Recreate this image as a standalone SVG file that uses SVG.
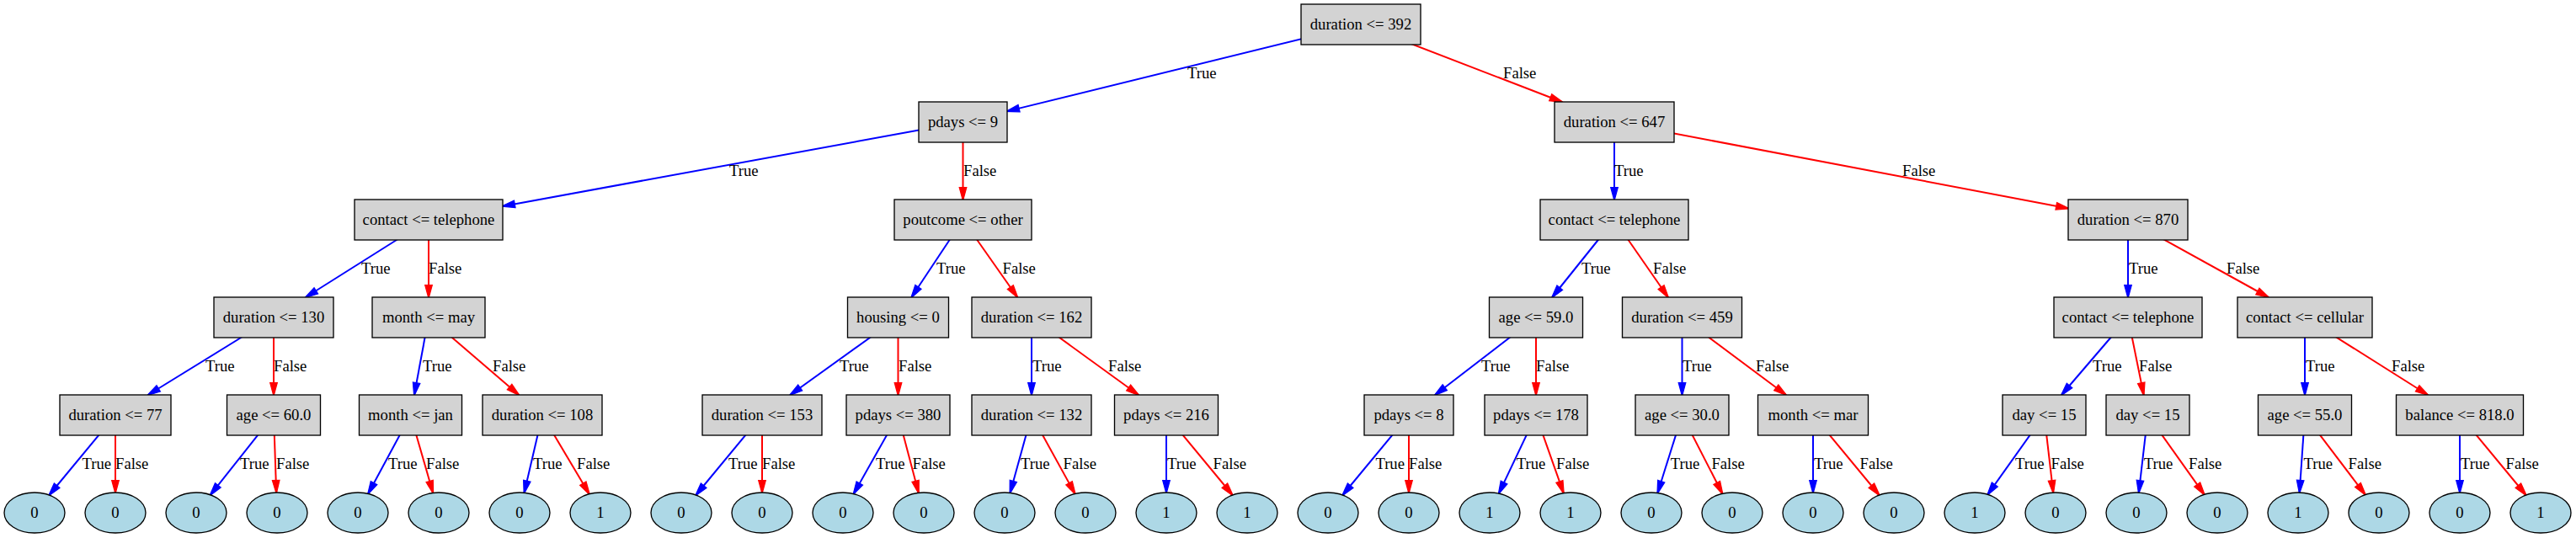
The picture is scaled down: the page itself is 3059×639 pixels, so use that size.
<svg xmlns="http://www.w3.org/2000/svg" width="3059" height="639" viewBox="0 0 3059 639">
<style>
text{font-family:"Liberation Serif","Times New Roman",serif;font-size:18.67px;fill:#000}
.n text,.l text{text-anchor:middle}
.n rect{fill:#d3d3d3;stroke:#000;stroke-width:1.33}
.l ellipse{fill:#add8e6;stroke:#000;stroke-width:1.33}
.t{stroke:#0000ff;stroke-width:2;marker-end:url(#at)}
.f{stroke:#ff0000;stroke-width:2;marker-end:url(#af)}
</style>
<defs>
<marker id="at" markerUnits="userSpaceOnUse" refX="14.5" refY="0" orient="auto" overflow="visible" markerWidth="18" markerHeight="12"><path d="M0,-4.3L16,0L0,4.3Z" fill="#0000ff" stroke="#0000ff" stroke-width="1.2"/></marker>
<marker id="af" markerUnits="userSpaceOnUse" refX="14.5" refY="0" orient="auto" overflow="visible" markerWidth="18" markerHeight="12"><path d="M0,-4.3L16,0L0,4.3Z" fill="#ff0000" stroke="#ff0000" stroke-width="1.2"/></marker>
</defs>
<rect width="3059" height="639" fill="#fff"/>
<g id="edges">
<line class="t" x1="1616" y1="29" x2="1196" y2="132.11"/>
<line class="f" x1="1616" y1="29" x2="1854.72" y2="121"/>
<line class="t" x1="1143.5" y1="145" x2="597" y2="244.91"/>
<line class="f" x1="1143.5" y1="145" x2="1143.5" y2="237"/>
<line class="t" x1="1917" y1="145" x2="1917" y2="237"/>
<line class="f" x1="1917" y1="145" x2="2456" y2="247.5"/>
<line class="t" x1="509" y1="261" x2="363.07" y2="353"/>
<line class="f" x1="509" y1="261" x2="509" y2="353"/>
<line class="t" x1="1143.5" y1="261" x2="1082.43" y2="353"/>
<line class="f" x1="1143.5" y1="261" x2="1208.14" y2="353"/>
<line class="t" x1="1917" y1="261" x2="1843.24" y2="353"/>
<line class="f" x1="1917" y1="261" x2="1980.84" y2="353"/>
<line class="t" x1="2527" y1="261" x2="2527" y2="353"/>
<line class="f" x1="2527" y1="261" x2="2693.55" y2="353"/>
<line class="t" x1="325" y1="377" x2="175.9" y2="469"/>
<line class="f" x1="325" y1="377" x2="325" y2="469"/>
<line class="t" x1="509" y1="377" x2="491.95" y2="469"/>
<line class="f" x1="509" y1="377" x2="616.07" y2="469"/>
<line class="t" x1="1066.5" y1="377" x2="938.41" y2="469"/>
<line class="f" x1="1066.5" y1="377" x2="1066.5" y2="469"/>
<line class="t" x1="1225" y1="377" x2="1225" y2="469"/>
<line class="f" x1="1225" y1="377" x2="1351.9" y2="469"/>
<line class="t" x1="1824" y1="377" x2="1704.24" y2="469"/>
<line class="f" x1="1824" y1="377" x2="1824" y2="469"/>
<line class="t" x1="1997.5" y1="377" x2="1997.5" y2="469"/>
<line class="f" x1="1997.5" y1="377" x2="2120.83" y2="469"/>
<line class="t" x1="2527" y1="377" x2="2448.09" y2="469"/>
<line class="f" x1="2527" y1="377" x2="2545.64" y2="469"/>
<line class="t" x1="2737" y1="377" x2="2737" y2="469"/>
<line class="f" x1="2737" y1="377" x2="2882.93" y2="469"/>
<line class="t" x1="137" y1="493" x2="58.39" y2="587.99"/>
<line class="f" x1="137" y1="493" x2="137" y2="585"/>
<line class="t" x1="325" y1="493" x2="249.83" y2="587.78"/>
<line class="f" x1="325" y1="493" x2="328.17" y2="585.01"/>
<line class="t" x1="487.5" y1="493" x2="437.17" y2="586.41"/>
<line class="f" x1="487.5" y1="493" x2="514.19" y2="585.43"/>
<line class="t" x1="644" y1="493" x2="622.52" y2="585.28"/>
<line class="f" x1="644" y1="493" x2="699.73" y2="586.69"/>
<line class="t" x1="905" y1="493" x2="826.39" y2="587.99"/>
<line class="f" x1="905" y1="493" x2="905" y2="585"/>
<line class="t" x1="1066.5" y1="493" x2="1013.68" y2="586.54"/>
<line class="f" x1="1066.5" y1="493" x2="1090.78" y2="585.36"/>
<line class="t" x1="1225" y1="493" x2="1199.51" y2="585.4"/>
<line class="f" x1="1225" y1="493" x2="1276.57" y2="586.48"/>
<line class="t" x1="1385" y1="493" x2="1385" y2="585"/>
<line class="f" x1="1385" y1="493" x2="1463.61" y2="587.99"/>
<line class="t" x1="1673" y1="493" x2="1594.39" y2="587.99"/>
<line class="f" x1="1673" y1="493" x2="1673" y2="585"/>
<line class="t" x1="1824" y1="493" x2="1779.85" y2="586.12"/>
<line class="f" x1="1824" y1="493" x2="1856.74" y2="585.64"/>
<line class="t" x1="1997.5" y1="493" x2="1968.39" y2="585.51"/>
<line class="f" x1="1997.5" y1="493" x2="2045.35" y2="586.29"/>
<line class="t" x1="2153" y1="493" x2="2153" y2="585"/>
<line class="f" x1="2153" y1="493" x2="2231.61" y2="587.99"/>
<line class="t" x1="2427.5" y1="493" x2="2360.42" y2="587.31"/>
<line class="f" x1="2427.5" y1="493" x2="2438.22" y2="585.07"/>
<line class="t" x1="2550.5" y1="493" x2="2539.78" y2="585.07"/>
<line class="f" x1="2550.5" y1="493" x2="2617.58" y2="587.31"/>
<line class="t" x1="2737" y1="493" x2="2730.65" y2="585.03"/>
<line class="f" x1="2737" y1="493" x2="2808.75" y2="587.58"/>
<line class="t" x1="2921" y1="493" x2="2921" y2="585"/>
<line class="f" x1="2921" y1="493" x2="2999.61" y2="587.99"/>
</g>
<g id="edge-labels">
<text x="1410" y="93">True</text><text x="1785" y="93">False</text>
<text x="866" y="209">True</text><text x="1144" y="209">False</text><text x="1917" y="209">True</text><text x="2259" y="209">False</text>
<text x="429" y="325">True</text><text x="509" y="325">False</text><text x="1112" y="325">True</text><text x="1190.5" y="325">False</text>
<text x="1878" y="325">True</text><text x="1963" y="325">False</text><text x="2528" y="325">True</text><text x="2644" y="325">False</text>
<text x="244" y="441">True</text><text x="325" y="441">False</text><text x="502" y="441">True</text><text x="585" y="441">False</text>
<text x="997" y="441">True</text><text x="1067" y="441">False</text><text x="1226" y="441">True</text><text x="1316" y="441">False</text>
<text x="1759" y="441">True</text><text x="1824" y="441">False</text><text x="1998" y="441">True</text><text x="2085" y="441">False</text>
<text x="2485" y="441">True</text><text x="2540" y="441">False</text><text x="2738" y="441">True</text><text x="2840" y="441">False</text>
<text x="97.6" y="557">True</text><text x="137" y="557">False</text>
<text x="285" y="557">True</text><text x="328" y="557">False</text>
<text x="461" y="557">True</text><text x="506" y="557">False</text>
<text x="633" y="557">True</text><text x="685" y="557">False</text>
<text x="865" y="557">True</text><text x="905" y="557">False</text>
<text x="1040" y="557">True</text><text x="1083.5" y="557">False</text>
<text x="1212" y="557">True</text><text x="1262.6" y="557">False</text>
<text x="1386" y="557">True</text><text x="1440.6" y="557">False</text>
<text x="1633.4" y="557">True</text><text x="1673" y="557">False</text>
<text x="1800.7" y="557">True</text><text x="1848" y="557">False</text>
<text x="1983.7" y="557">True</text><text x="2032.4" y="557">False</text>
<text x="2154" y="557">True</text><text x="2208.5" y="557">False</text>
<text x="2393" y="557">True</text><text x="2435.5" y="557">False</text>
<text x="2545.7" y="557">True</text><text x="2599" y="557">False</text>
<text x="2735.5" y="557">True</text><text x="2788.6" y="557">False</text>
<text x="2922" y="557">True</text><text x="2975.5" y="557">False</text>
</g>
<g id="n0" class="n"><rect x="1545" y="5" width="142" height="48"/><text x="1616" y="35">duration &lt;= 392</text></g>
<g id="n1" class="n"><rect x="1091" y="121" width="105" height="48"/><text x="1143.5" y="151">pdays &lt;= 9</text></g>
<g id="n2" class="n"><rect x="1846" y="121" width="142" height="48"/><text x="1917" y="151">duration &lt;= 647</text></g>
<g id="n3" class="n"><rect x="421" y="237" width="176" height="48"/><text x="509" y="267">contact &lt;= telephone</text></g>
<g id="n4" class="n"><rect x="1062" y="237" width="163" height="48"/><text x="1143.5" y="267">poutcome &lt;= other</text></g>
<g id="n5" class="n"><rect x="1829" y="237" width="176" height="48"/><text x="1917" y="267">contact &lt;= telephone</text></g>
<g id="n6" class="n"><rect x="2456" y="237" width="142" height="48"/><text x="2527" y="267">duration &lt;= 870</text></g>
<g id="n7" class="n"><rect x="254" y="353" width="142" height="48"/><text x="325" y="383">duration &lt;= 130</text></g>
<g id="n8" class="n"><rect x="442" y="353" width="134" height="48"/><text x="509" y="383">month &lt;= may</text></g>
<g id="n9" class="n"><rect x="1006.5" y="353" width="120" height="48"/><text x="1066.5" y="383">housing &lt;= 0</text></g>
<g id="n10" class="n"><rect x="1154" y="353" width="142" height="48"/><text x="1225" y="383">duration &lt;= 162</text></g>
<g id="n11" class="n"><rect x="1768.5" y="353" width="111" height="48"/><text x="1824" y="383">age &lt;= 59.0</text></g>
<g id="n12" class="n"><rect x="1926.5" y="353" width="142" height="48"/><text x="1997.5" y="383">duration &lt;= 459</text></g>
<g id="n13" class="n"><rect x="2439" y="353" width="176" height="48"/><text x="2527" y="383">contact &lt;= telephone</text></g>
<g id="n14" class="n"><rect x="2657" y="353" width="160" height="48"/><text x="2737" y="383">contact &lt;= cellular</text></g>
<g id="n15" class="n"><rect x="71" y="469" width="132" height="48"/><text x="137" y="499">duration &lt;= 77</text></g>
<g id="n16" class="n"><rect x="269.5" y="469" width="111" height="48"/><text x="325" y="499">age &lt;= 60.0</text></g>
<g id="n17" class="n"><rect x="426.5" y="469" width="122" height="48"/><text x="487.5" y="499">month &lt;= jan</text></g>
<g id="n18" class="n"><rect x="573" y="469" width="142" height="48"/><text x="644" y="499">duration &lt;= 108</text></g>
<g id="n19" class="n"><rect x="834" y="469" width="142" height="48"/><text x="905" y="499">duration &lt;= 153</text></g>
<g id="n20" class="n"><rect x="1005" y="469" width="123" height="48"/><text x="1066.5" y="499">pdays &lt;= 380</text></g>
<g id="n21" class="n"><rect x="1154" y="469" width="142" height="48"/><text x="1225" y="499">duration &lt;= 132</text></g>
<g id="n22" class="n"><rect x="1323.5" y="469" width="123" height="48"/><text x="1385" y="499">pdays &lt;= 216</text></g>
<g id="n23" class="n"><rect x="1620" y="469" width="106" height="48"/><text x="1673" y="499">pdays &lt;= 8</text></g>
<g id="n24" class="n"><rect x="1763" y="469" width="122" height="48"/><text x="1824" y="499">pdays &lt;= 178</text></g>
<g id="n25" class="n"><rect x="1942" y="469" width="111" height="48"/><text x="1997.5" y="499">age &lt;= 30.0</text></g>
<g id="n26" class="n"><rect x="2087.5" y="469" width="131" height="48"/><text x="2153" y="499">month &lt;= mar</text></g>
<g id="n27" class="n"><rect x="2378" y="469" width="99" height="48"/><text x="2427.5" y="499">day &lt;= 15</text></g>
<g id="n28" class="n"><rect x="2501" y="469" width="99" height="48"/><text x="2550.5" y="499">day &lt;= 15</text></g>
<g id="n29" class="n"><rect x="2681.5" y="469" width="111" height="48"/><text x="2737" y="499">age &lt;= 55.0</text></g>
<g id="n30" class="n"><rect x="2845.5" y="469" width="151" height="48"/><text x="2921" y="499">balance &lt;= 818.0</text></g>
<g id="leaf0" class="l"><ellipse cx="41" cy="609" rx="36" ry="24"/><text x="41" y="615">0</text></g>
<g id="leaf1" class="l"><ellipse cx="137" cy="609" rx="36" ry="24"/><text x="137" y="615">0</text></g>
<g id="leaf2" class="l"><ellipse cx="233" cy="609" rx="36" ry="24"/><text x="233" y="615">0</text></g>
<g id="leaf3" class="l"><ellipse cx="329" cy="609" rx="36" ry="24"/><text x="329" y="615">0</text></g>
<g id="leaf4" class="l"><ellipse cx="425" cy="609" rx="36" ry="24"/><text x="425" y="615">0</text></g>
<g id="leaf5" class="l"><ellipse cx="521" cy="609" rx="36" ry="24"/><text x="521" y="615">0</text></g>
<g id="leaf6" class="l"><ellipse cx="617" cy="609" rx="36" ry="24"/><text x="617" y="615">0</text></g>
<g id="leaf7" class="l"><ellipse cx="713" cy="609" rx="36" ry="24"/><text x="713" y="615">1</text></g>
<g id="leaf8" class="l"><ellipse cx="809" cy="609" rx="36" ry="24"/><text x="809" y="615">0</text></g>
<g id="leaf9" class="l"><ellipse cx="905" cy="609" rx="36" ry="24"/><text x="905" y="615">0</text></g>
<g id="leaf10" class="l"><ellipse cx="1001" cy="609" rx="36" ry="24"/><text x="1001" y="615">0</text></g>
<g id="leaf11" class="l"><ellipse cx="1097" cy="609" rx="36" ry="24"/><text x="1097" y="615">0</text></g>
<g id="leaf12" class="l"><ellipse cx="1193" cy="609" rx="36" ry="24"/><text x="1193" y="615">0</text></g>
<g id="leaf13" class="l"><ellipse cx="1289" cy="609" rx="36" ry="24"/><text x="1289" y="615">0</text></g>
<g id="leaf14" class="l"><ellipse cx="1385" cy="609" rx="36" ry="24"/><text x="1385" y="615">1</text></g>
<g id="leaf15" class="l"><ellipse cx="1481" cy="609" rx="36" ry="24"/><text x="1481" y="615">1</text></g>
<g id="leaf16" class="l"><ellipse cx="1577" cy="609" rx="36" ry="24"/><text x="1577" y="615">0</text></g>
<g id="leaf17" class="l"><ellipse cx="1673" cy="609" rx="36" ry="24"/><text x="1673" y="615">0</text></g>
<g id="leaf18" class="l"><ellipse cx="1769" cy="609" rx="36" ry="24"/><text x="1769" y="615">1</text></g>
<g id="leaf19" class="l"><ellipse cx="1865" cy="609" rx="36" ry="24"/><text x="1865" y="615">1</text></g>
<g id="leaf20" class="l"><ellipse cx="1961" cy="609" rx="36" ry="24"/><text x="1961" y="615">0</text></g>
<g id="leaf21" class="l"><ellipse cx="2057" cy="609" rx="36" ry="24"/><text x="2057" y="615">0</text></g>
<g id="leaf22" class="l"><ellipse cx="2153" cy="609" rx="36" ry="24"/><text x="2153" y="615">0</text></g>
<g id="leaf23" class="l"><ellipse cx="2249" cy="609" rx="36" ry="24"/><text x="2249" y="615">0</text></g>
<g id="leaf24" class="l"><ellipse cx="2345" cy="609" rx="36" ry="24"/><text x="2345" y="615">1</text></g>
<g id="leaf25" class="l"><ellipse cx="2441" cy="609" rx="36" ry="24"/><text x="2441" y="615">0</text></g>
<g id="leaf26" class="l"><ellipse cx="2537" cy="609" rx="36" ry="24"/><text x="2537" y="615">0</text></g>
<g id="leaf27" class="l"><ellipse cx="2633" cy="609" rx="36" ry="24"/><text x="2633" y="615">0</text></g>
<g id="leaf28" class="l"><ellipse cx="2729" cy="609" rx="36" ry="24"/><text x="2729" y="615">1</text></g>
<g id="leaf29" class="l"><ellipse cx="2825" cy="609" rx="36" ry="24"/><text x="2825" y="615">0</text></g>
<g id="leaf30" class="l"><ellipse cx="2921" cy="609" rx="36" ry="24"/><text x="2921" y="615">0</text></g>
<g id="leaf31" class="l"><ellipse cx="3017" cy="609" rx="36" ry="24"/><text x="3017" y="615">1</text></g>
</svg>
